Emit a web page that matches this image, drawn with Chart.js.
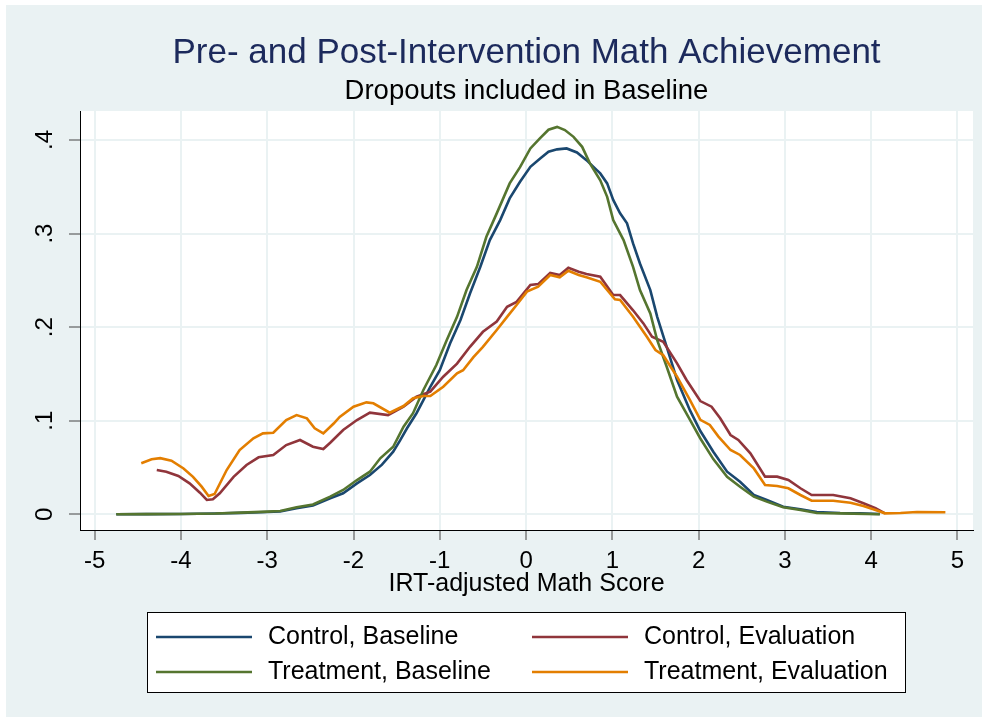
<!DOCTYPE html>
<html>
<head>
<meta charset="utf-8">
<title>Pre- and Post-Intervention Math Achievement</title>
<script src="https://cdn.jsdelivr.net/npm/chart.js@4.4.1/dist/chart.umd.min.js"></script>
<style>
  html, body { margin: 0; padding: 0; background: #fff; }
</style>
</head>
<body>
<canvas id="kdens" width="988" height="723"></canvas>
<script>
// axis ticks
const xTicks = [-5, -4, -3, -2, -1, 0, 1, 2, 3, 4, 5];
const xTickLabels = ['-5', '-4', '-3', '-2', '-1', '0', '1', '2', '3', '4', '5'];
const yTicks = [0, 0.1, 0.2, 0.3, 0.4];
const yTickLabels = ['0', '.1', '.2', '.3', '.4'];

const seriesNames = ['Control, Baseline', 'Control, Evaluation', 'Treatment, Baseline', 'Treatment, Evaluation'];

// kernel density curves
const ctrlBaseX = [-4.75, -4.40, -4.00, -3.60, -3.30, -3.00, -2.85, -2.66, -2.47, -2.27, -2.12, -1.96, -1.81, -1.67, -1.54,
  -1.46, -1.38, -1.27, -1.19, -1.11, -1.00, -0.88, -0.76, -0.65, -0.53, -0.42, -0.30, -0.19, -0.07, 0.05, 0.16, 0.26, 0.36,
  0.47, 0.59, 0.70, 0.82, 0.86, 0.94, 1.01, 1.09, 1.17, 1.24, 1.32, 1.44, 1.52, 1.63, 1.75, 1.90, 2.02, 2.17, 2.33, 2.48, 2.64, 2.79,
  2.98, 3.18, 3.37, 3.64, 3.87, 4.10];
const ctrlBaseY = [0.0000, 0.0002, 0.0003, 0.0008, 0.0015, 0.0025, 0.0030, 0.0065, 0.0095, 0.0171, 0.0224, 0.0330, 0.0420, 0.0530, 0.0669,
  0.0790, 0.0919, 0.1080, 0.1220, 0.1363, 0.1540, 0.1827, 0.2076, 0.2360, 0.2645, 0.2930, 0.3144, 0.3376, 0.3553, 0.3714, 0.3800, 0.3874, 0.3900,
  0.3910, 0.3867, 0.3785, 0.3678, 0.3643, 0.3536, 0.3360, 0.3216, 0.3110, 0.2895, 0.2680, 0.2396, 0.2110, 0.1790, 0.1435, 0.1110, 0.0890, 0.0669, 0.0455, 0.0348, 0.0206, 0.0153,
  0.0081, 0.0053, 0.0025, 0.0014, 0.0010, 0.0003];

const ctrlEvalX = [-4.28, -4.17, -4.03, -3.90, -3.78, -3.70, -3.63, -3.55, -3.39, -3.24, -3.10, -2.93, -2.78, -2.62, -2.47,
  -2.35, -2.27, -2.12, -1.96, -1.81, -1.60, -1.42, -1.27, -1.11, -0.96, -0.80, -0.65, -0.50, -0.34, -0.22, -0.11, 0.05, 0.14,
  0.28, 0.39, 0.49, 0.61, 0.70, 0.86, 1.01, 1.09, 1.24, 1.36, 1.46, 1.59, 1.75, 1.86, 2.02, 2.15, 2.25, 2.37, 2.46, 2.60,
  2.77, 2.91, 3.04, 3.18, 3.31, 3.56, 3.76, 3.91, 4.05, 4.16];
const ctrlEvalY = [0.0473, 0.0455, 0.0410, 0.0330, 0.0231, 0.0153, 0.0160, 0.0224, 0.0400, 0.0527, 0.0609, 0.0634, 0.0740, 0.0794, 0.0722,
  0.0698, 0.0765, 0.0900, 0.1007, 0.1086, 0.1060, 0.1150, 0.1257, 0.1310, 0.1470, 0.1610, 0.1790, 0.1950, 0.2060, 0.2218, 0.2270, 0.2450, 0.2460,
  0.2580, 0.2557, 0.2635, 0.2592, 0.2567, 0.2539, 0.2343, 0.2343, 0.2180, 0.2040, 0.1897, 0.1844, 0.1613, 0.1435, 0.1210, 0.1150, 0.1026, 0.0847, 0.0794, 0.0652,
  0.0402, 0.0402, 0.0366, 0.0278, 0.0206, 0.0206, 0.0171, 0.0118, 0.0064, 0.0010];

const treatBaseX = [-4.75, -4.40, -4.00, -3.60, -3.30, -3.00, -2.85, -2.66, -2.47, -2.27, -2.12, -1.96, -1.81, -1.69, -1.54,
  -1.42, -1.31, -1.19, -1.04, -0.92, -0.80, -0.69, -0.57, -0.46, -0.34, -0.19, -0.07, 0.05, 0.16, 0.26, 0.36, 0.45, 0.55,
  0.65, 0.74, 0.86, 0.94, 1.01, 1.13, 1.24, 1.32, 1.44, 1.52, 1.63, 1.75, 1.90, 2.02, 2.17, 2.33, 2.48, 2.64, 2.79, 2.98,
  3.18, 3.37, 3.64, 4.10];
const treatBaseY = [0.0000, 0.0002, 0.0003, 0.0008, 0.0018, 0.0028, 0.0035, 0.0075, 0.0105, 0.0188, 0.0260, 0.0366, 0.0455, 0.0598, 0.0722,
  0.0936, 0.1080, 0.1328, 0.1595, 0.1860, 0.2110, 0.2396, 0.2645, 0.2966, 0.3216, 0.3536, 0.3710, 0.3910, 0.4017, 0.4110, 0.4140, 0.4106, 0.4034,
  0.3927, 0.3750, 0.3570, 0.3393, 0.3144, 0.2930, 0.2645, 0.2396, 0.2147, 0.1860, 0.1577, 0.1256, 0.1010, 0.0810, 0.0590, 0.0400, 0.0295, 0.0188, 0.0135, 0.0075,
  0.0046, 0.0014, 0.0010, 0.0000];

const treatEvalX = [-4.46, -4.34, -4.24, -4.11, -3.97, -3.86, -3.76, -3.68, -3.61, -3.47, -3.32, -3.16, -3.05, -2.93, -2.78,
  -2.66, -2.54, -2.45, -2.35, -2.23, -2.16, -2.00, -1.85, -1.77, -1.58, -1.42, -1.31, -1.19, -1.11, -0.96, -0.80, -0.73, -0.61,
  -0.50, -0.34, -0.22, -0.11, 0.01, 0.14, 0.28, 0.39, 0.49, 0.61, 0.70, 0.86, 1.03, 1.09, 1.24, 1.40, 1.50, 1.59, 1.75, 1.90,
  2.02, 2.13, 2.23, 2.37, 2.48, 2.64, 2.77, 2.91, 3.04, 3.18, 3.31, 3.56, 3.76, 3.91, 4.05, 4.16, 4.34, 4.53, 4.86];
const treatEvalY = [0.0545, 0.0588, 0.0600, 0.0573, 0.0490, 0.0400, 0.0295, 0.0195, 0.0217, 0.0473, 0.0687, 0.0812, 0.0865, 0.0872, 0.1007,
  0.1060, 0.1025, 0.0919, 0.0865, 0.0970, 0.1040, 0.1150, 0.1196, 0.1186, 0.1086, 0.1157, 0.1240, 0.1264, 0.1264, 0.1363, 0.1506, 0.1540, 0.1680,
  0.1790, 0.1970, 0.2110, 0.2236, 0.2380, 0.2432, 0.2557, 0.2532, 0.2603, 0.2557, 0.2532, 0.2485, 0.2297, 0.2290, 0.2111, 0.1897, 0.1755, 0.1700, 0.1470, 0.1221,
  0.1010, 0.0955, 0.0830, 0.0687, 0.0634, 0.0490, 0.0313, 0.0302, 0.0278, 0.0206, 0.0145, 0.0145, 0.0124, 0.0089, 0.0046, 0.0010, 0.0014, 0.0025, 0.0021];

const FONT = '"Liberation Sans", Arial, sans-serif';
const lineColors = ['#1a476f', '#90353b', '#55752f', '#e37e00'];

function toPoints(xs, ys) {
  return xs.map((x, i) => ({ x: x, y: ys[i] }));
}

// Stata-like frame: grey-blue backdrop, white plot region, rotated y labels, boxed legend
const stataFrame = {
  id: 'stataFrame',
  beforeDraw(chart) {
    const { ctx, chartArea: a } = chart;
    ctx.save();
    ctx.fillStyle = '#ffffff';
    ctx.fillRect(0, 0, chart.width, chart.height);
    ctx.fillStyle = '#eaf2f3';
    ctx.fillRect(6, 5, chart.width - 12, chart.height - 11);
    ctx.fillStyle = '#ffffff';
    ctx.fillRect(a.left, a.top, a.right - a.left, a.bottom - a.top);
    ctx.restore();
  },
  afterDraw(chart) {
    const ctx = chart.ctx;
    const yScale = chart.scales.y;
    ctx.save();
    ctx.font = '24px ' + FONT;
    ctx.fillStyle = '#000';
    ctx.textAlign = 'center';
    ctx.textBaseline = 'middle';
    yTicks.forEach((v, i) => {
      ctx.save();
      ctx.translate(45, yScale.getPixelForValue(v));
      ctx.rotate(-Math.PI / 2);
      ctx.fillText(yTickLabels[i], 0, 0);
      ctx.restore();
    });

    // legend, two columns
    ctx.fillStyle = '#ffffff';
    ctx.fillRect(147, 612, 758, 80);
    ctx.strokeStyle = '#000';
    ctx.lineWidth = 1;
    ctx.strokeRect(147.5, 612.5, 758, 80);
    ctx.textAlign = 'left';
    ctx.font = '25px ' + FONT;
    chart.data.datasets.forEach((ds, i) => {
      const lx = (i % 2) ? 532 : 156;
      const ly = (i < 2) ? 637 : 672;
      ctx.strokeStyle = ds.borderColor;
      ctx.lineWidth = 2.6;
      ctx.beginPath();
      ctx.moveTo(lx, ly);
      ctx.lineTo(lx + 96, ly);
      ctx.stroke();
      ctx.fillStyle = '#000';
      ctx.fillText(ds.label, lx + 112, ly);
    });
    ctx.restore();
  }
};

const seriesX = [ctrlBaseX, ctrlEvalX, treatBaseX, treatEvalX];
const seriesY = [ctrlBaseY, ctrlEvalY, treatBaseY, treatEvalY];

new Chart(document.getElementById('kdens'), {
  type: 'line',
  data: {
    datasets: seriesNames.map((name, i) => ({
      label: name,
      data: toPoints(seriesX[i], seriesY[i]),
      borderColor: lineColors[i],
      borderWidth: 2.6,
      pointRadius: 0,
      tension: 0,
      fill: false,
      order: 3 - i   // later series drawn on top, like Stata
    }))
  },
  options: {
    responsive: false,
    animation: false,
    events: [],
    layout: { padding: { top: 5, left: 0, right: 15, bottom: 124 } },
    scales: {
      x: {
        type: 'linear',
        min: -5.17,
        max: 5.18,
        afterBuildTicks: s => { s.ticks = xTicks.map(v => ({ value: v })); },
        afterFit: s => { s.height = 69; },
        grid: { color: '#eaf2f3', lineWidth: 2, tickLength: 10, tickColor: '#444', tickWidth: 1 },
        border: { color: '#000', width: 1 },
        ticks: {
          color: '#000',
          font: { family: FONT, size: 24 },
          padding: 7,
          maxRotation: 0,
          autoSkip: false,
          callback: (v, i) => xTickLabels[i]
        },
        title: {
          display: true,
          text: 'IRT-adjusted Math Score',
          color: '#000',
          font: { family: FONT, size: 25 },
          padding: { top: 0, bottom: 0 }
        }
      },
      y: {
        type: 'linear',
        min: -0.0168,
        max: 0.431,
        afterBuildTicks: s => { s.ticks = yTicks.map(v => ({ value: v })); },
        afterFit: s => { s.width = 80; },
        grid: { color: '#eaf2f3', lineWidth: 2, tickLength: 11, tickColor: '#444', tickWidth: 1 },
        border: { color: '#000', width: 1 },
        ticks: { display: false }
      }
    },
    plugins: {
      legend: { display: false },
      tooltip: { enabled: false },
      title: {
        display: true,
        fullSize: false,
        text: 'Pre- and Post-Intervention Math Achievement',
        color: '#1c2a5c',
        font: { family: FONT, size: 35, weight: 'normal' },
        padding: { top: 27, bottom: 0 }
      },
      subtitle: {
        display: true,
        fullSize: false,
        text: 'Dropouts included in Baseline',
        color: '#000',
        font: { family: FONT, size: 27.5, weight: 'normal' },
        padding: { top: 1, bottom: 3 }
      }
    }
  },
  plugins: [stataFrame]
});
</script>
</body>
</html>
